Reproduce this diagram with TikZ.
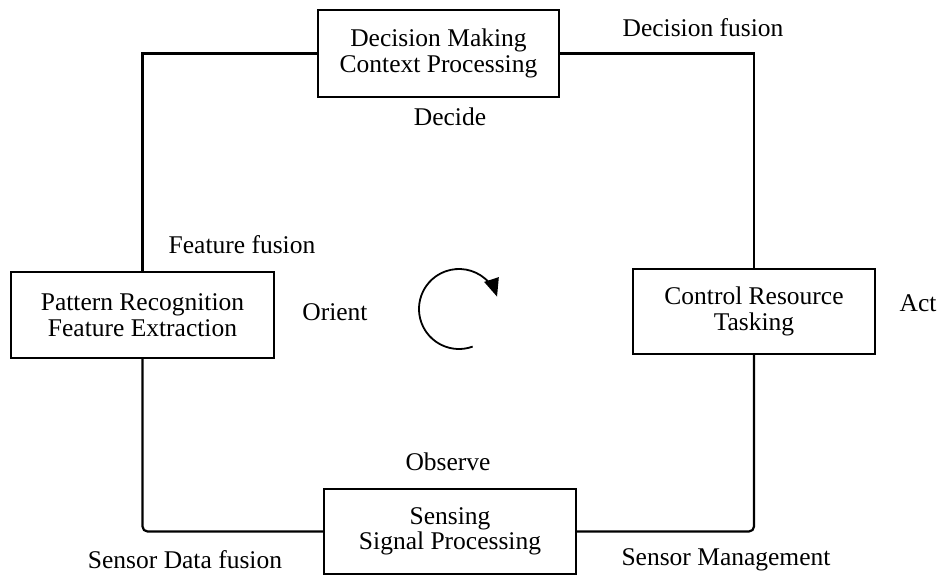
\documentclass[tikz,border=0pt]{standalone}
\usepackage{fontspec}
\setmainfont{Liberation Serif}
\usetikzlibrary{arrows.meta}
\tikzset{
  procbox/.style={draw, line width=2.2pt, align=center, inner sep=0pt,
    font=\fontsize{25.5}{25.5}\selectfont},
  lbl/.style={font=\fontsize{25.5}{25.5}\selectfont, inner sep=0pt},
  loopline/.style={line width=2.2pt},
}
\begin{document}
\begin{tikzpicture}[x=1pt,y=1pt]
\useasboundingbox (0,0) rectangle (943,575);
% boxes
\node[procbox, minimum width=241pt, minimum height=87pt] (top) at (438.5,521.5) {Decision Making\\Context Processing};
\node[procbox, minimum width=263pt, minimum height=86pt] (left) at (142.5,260) {Pattern Recognition\\Feature Extraction};
\node[procbox, minimum width=242pt, minimum height=85pt] (right) at (754,263.5) {Control Resource\\Tasking};
\node[procbox, minimum width=252pt, minimum height=85pt] (bot) at (450,43.5) {Sensing\\Signal Processing};
% loop connectors
\draw[loopline] (top.west) -| (left.north);
\draw[loopline, rounded corners=5pt] (left.south) |- (bot.west);
\draw[loopline, rounded corners=5pt] (bot.east) -| (right.south);
\draw[loopline] (right.north) |- (top.east);
% labels
\node[lbl] (ldf) at (703,547) {Decision fusion};
\node[lbl] (ldec) at (450,458) {Decide};
\node[lbl] (lff) at (242,330) {Feature fusion};
\node[lbl] (lor) at (335,263) {Orient};
\node[lbl] (lact) at (918,272) {Act};
\node[lbl] (lobs) at (448,113) {Observe};
\node[lbl] (lsdf) at (185,15) {Sensor Data fusion};
\node[lbl] (lsm) at (726,15) {Sensor Management};
% circular arrow
\coordinate (cc) at (459,266);
\draw[line width=1.8pt, -{Triangle[length=18pt,width=15pt]}] (cc) ++(-70:40) arc[start angle=-70, end angle=-342, radius=40];
\end{tikzpicture}
\end{document}
